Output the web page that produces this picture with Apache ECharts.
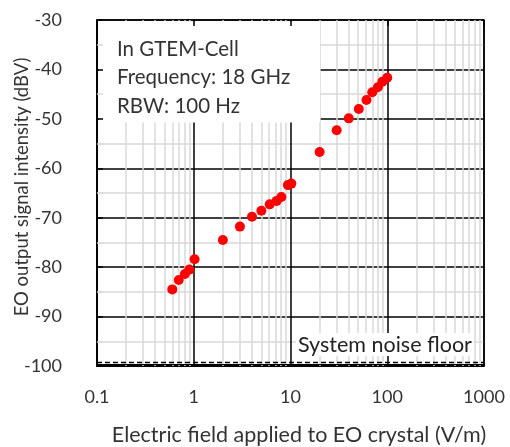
<!DOCTYPE html>
<html>
<head>
<meta charset="utf-8">
<script src="https://cdn.jsdelivr.net/npm/echarts@6/dist/echarts.min.js"></script>
<style>html,body{margin:0;padding:0;background:#fff}#c{width:510px;height:447px}</style>
</head>
<body>
<div id="c"></div>
<script>
const fieldVm = [0.60,0.70,0.81,0.90,1.02,2.0,3.0,4.0,5.0,6.1,7.2,8.05,9.4,10.2,20,30,40,50.8,61,70,80,89,100];
const signalDbv = [-84.5,-82.6,-81.4,-80.5,-78.4,-74.5,-71.8,-69.8,-68.6,-67.3,-66.6,-65.8,-63.4,-63.1,-56.7,-52.3,-49.9,-48.0,-46.2,-44.6,-43.6,-42.5,-41.7];
const xTickLabels = [0.1,1,10,100,1000];
const minorXGrid = [0.2,0.3,0.4,0.5,0.6,0.7,0.8,0.9,2,3,4,5,6,7,8,9,20,30,40,50,60,70,80,90,200,300,400,500,600,700,800,900];
const noiseFloor = -99.2;
const infoLines = ['In GTEM-Cell','Frequency: 18 GHz','RBW: 100 Hz'];
const noiseLabel = 'System noise floor';
const xTitle = 'Electric field applied to EO crystal (V/m)';
const yTitle = 'EO output signal intensity (dBV)';

const FONT = 'Lato';
const chart = echarts.init(document.getElementById('c'));
const G = {left:97, top:20, right:26, bottom:81};

chart.setOption({
  animation:false,
  backgroundColor:'#fff',
  textStyle:{fontFamily:FONT},
  grid:{left:G.left, top:G.top, right:G.right, bottom:G.bottom, containLabel:false, outerBoundsMode:'none',
    show:true, borderColor:'#000', borderWidth:1.5, backgroundColor:'transparent'},
  xAxis:[{
    type:'log', logBase:10, min:0.1, max:1000, z:0,
    axisLine:{show:true, lineStyle:{color:'#000', width:1.5}},
    axisTick:{show:false},
    axisLabel:{margin:22, fontSize:18, color:'#333', fontFamily:FONT,
      formatter:v=>{ const r=xTickLabels.find(t=>Math.abs(t-v)/t<1e-6); return r===undefined?'':String(r);} },
    splitLine:{show:true, lineStyle:{color:'#000', width:1.5}},
    name:xTitle, nameLocation:'middle', nameGap:58,
    nameTextStyle:{fontSize:21.5, color:'#333', fontFamily:FONT, padding:[0,0,0,17]}
  },{
    type:'log', logBase:10, min:0.1, max:1000, position:'top', z:20,
    axisLine:{show:false}, axisLabel:{show:false}, splitLine:{show:false},
    axisTick:{show:true, inside:true, length:6, lineStyle:{color:'#000', width:1.5}}
  }],
  yAxis:[{
    type:'value', min:-100, max:-30, interval:10, z:0,
    axisLine:{show:true, lineStyle:{color:'#000', width:1.5}},
    axisTick:{show:false},
    axisLabel:{margin:35, fontSize:18, color:'#333', fontFamily:FONT},
    splitLine:{show:true, lineStyle:{color:'#000', width:1.5}},
    minorTick:{show:false, splitNumber:2},
    minorSplitLine:{show:true, lineStyle:{color:'#d9d9d9', width:1.5}}
  },{
    type:'value', min:-100, max:-30, interval:10, position:'left', z:20,
    axisLine:{show:false}, axisLabel:{show:false}, splitLine:{show:false},
    axisTick:{show:true, inside:true, length:6, lineStyle:{color:'#000', width:1.5}},
    minorTick:{show:true, splitNumber:2, length:6, lineStyle:{color:'#d9d9d9', width:1.5}}
  }],
  graphic:[
    {type:'rect', z:10, shape:{x:99, y:21.5, width:221, height:101}, style:{fill:'#fff'}},
    {type:'text', z:11, left:117, top:35, style:{text:infoLines.join('\n'), font:'20.5px '+FONT, fill:'#333', lineHeight:28.5}},
    {type:'text', z:11, left:296, top:333, style:{text:noiseLabel, font:'21.5px '+FONT, fill:'#222', backgroundColor:'#fff', padding:[1,2,0,2]}},
    {type:'text', z:11, x:22.5, y:187, rotation:Math.PI/2, style:{text:yTitle, font:'18.5px '+FONT, fill:'#333', align:'center', verticalAlign:'middle'}}
  ],
  series:[{
    type:'scatter', xAxisIndex:0, yAxisIndex:0,
    data:fieldVm.map((x,i)=>[x, signalDbv[i]]),
    symbol:'circle', symbolSize:10,
    itemStyle:{color:'#ff0000', opacity:1},
    z:5,
    markLine:{
      silent:true, symbol:'none', label:{show:false}, animation:false,
      lineStyle:{color:'#d9d9d9', width:1.5, type:'solid'},
      data:[
        ...minorXGrid.map(v=>({xAxis:v})),
        {yAxis:noiseFloor, lineStyle:{color:'#000', width:1.3, type:[5,3]}},
        {yAxis:-99.6, lineStyle:{color:'#000', width:1, type:'solid'}}
      ]
    }
  }]
});
</script>
</body>
</html>
